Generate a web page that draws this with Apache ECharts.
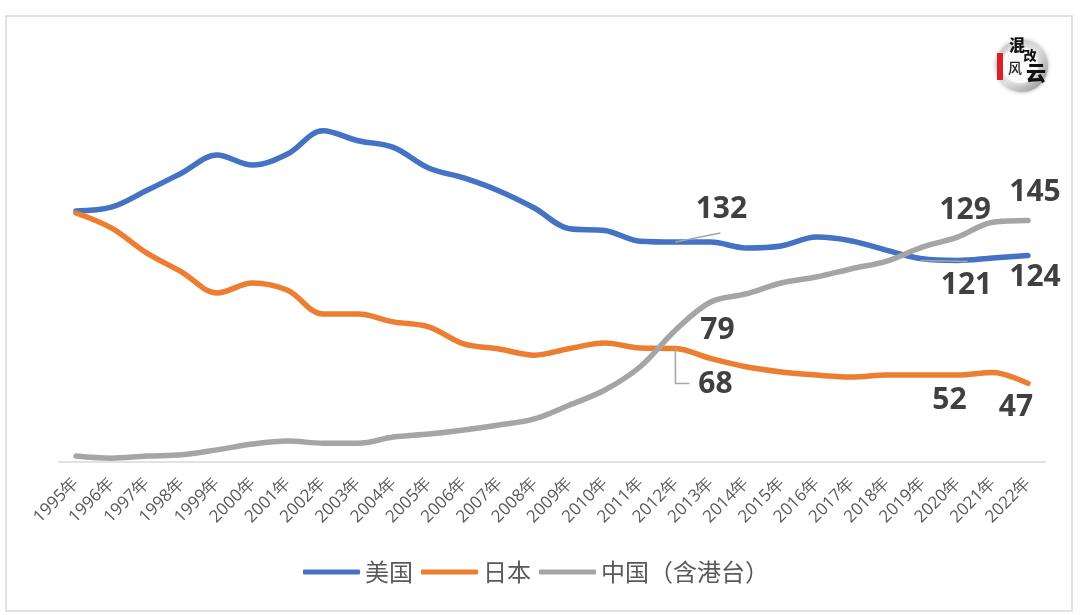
<!DOCTYPE html>
<html><head><meta charset="utf-8">
<script src="https://cdn.jsdelivr.net/npm/echarts@6/dist/echarts.min.js"></script>
<style>html,body{margin:0;padding:0;background:#fff}#c{width:1080px;height:615px}</style>
</head><body><div id="c"></div>
<script>
const years = ['1995年','1996年','1997年','1998年','1999年','2000年','2001年','2002年','2003年','2004年','2005年','2006年','2007年','2008年','2009年','2010年','2011年','2012年','2013年','2014年','2015年','2016年','2017年','2018年','2019年','2020年','2021年','2022年'];
const usa = [150.7,153,163,173.6,184.4,178.4,185,199,193,189,176.6,170.6,162.8,152.5,140,139,132.5,132,132,128.5,129.7,135,132.7,127,122,121,122.5,124];
const japan = [149.5,140.5,125.5,114,101.4,107.4,103,88.7,88.7,84,81,70.7,67.7,64,68,71.3,68.3,68,62,57,53.9,52,50.8,52,52,52,53.5,47];
const china = [3.3,2,3.3,4,7,10.5,12.3,11,11,14.7,16.5,19,22,25.6,34,43,57,79,96,100.8,107.4,111,116,120.6,129,135,144,145];

// label offsets from the data point, by data index
const usaLabels = {17:[46,-33],25:[9,25],27:[7,22]};
const japanLabels = {17:[40,36],25:[-8,25],27:[-12,24]};
const chinaLabels = {17:[42,0],24:[49,-37],27:[7,-28]};
chinaLabels[24] = [43,-37];

// leader lines: anchored on a data point, then pixel offsets from it
const leaderAnchors = [[17,132],[25,121],[17,68]];
const leaderOffsets = [
  [[0,0],[45,-9]],
  [[-37,0],[10,1]],
  [[0,0],[0,35],[14,35]]
];

function makeSeries(name, values, color, spec, z){
  return {
    name, type:'line', smooth:0.35, z,
    showSymbol:true, symbol:'circle', symbolSize:0,
    lineStyle:{color, width:5.5, cap:'round', join:'round'},
    itemStyle:{color},
    emphasis:{disabled:true},
    data: values.map((v,i)=>{
      const s = spec[i];
      if(!s) return {value:v, label:{show:false}};
      return {value:v,
        label:{show:true, position:'inside', formatter:'{c}', color:'#404040',
               fontFamily:'"Open Sans"', fontWeight:700, fontSize:30}};
    }),
    labelLayout:(p)=>{ const s=spec[p.dataIndex]; return s?{dx:s[0],dy:s[1]}:{}; }
  };
}

const chart = echarts.init(document.getElementById('c'), null, {renderer:'canvas'});
chart.setOption({
  animation:false,
  backgroundColor:'#fff',
  grid:{left:58.4, right:34.4, top:62.6, bottom:153.5},
  legend:{
    top:555, left:298, icon:'roundRect', itemWidth:57, itemHeight:5, itemGap:8,
    textStyle:{color:'#595959', fontSize:24, fontFamily:'"Noto Sans CJK SC"'},
    data:['美国','日本','中国（含港台）']
  },
  xAxis:{type:'category', data:years, boundaryGap:true,
    axisLine:{lineStyle:{color:'#d9d9d9', width:1.5}}, axisTick:{show:false},
    axisLabel:{rotate:45, interval:0, color:'#595959', fontSize:17, fontFamily:'"Open Sans"', margin:19}},
  yAxis:{type:'value', min:0, max:240, show:false, splitLine:{show:false}},
  series:[
    {type:'custom', silent:true, z:6, data:leaderAnchors, encode:{x:0,y:1},
      renderItem:(params,api)=>{
        const c = api.coord([api.value(0),api.value(1)]);
        return {type:'polyline', shape:{points:leaderOffsets[params.dataIndex].map(o=>[c[0]+o[0],c[1]+o[1]])},
          style:{fill:null,stroke:'#a6a6a6',lineWidth:1.5}};
      }},
    makeSeries('美国', usa, '#4472c4', usaLabels, 3),
    makeSeries('日本', japan, '#ed7d31', japanLabels, 4),
    makeSeries('中国（含港台）', china, '#a5a5a5', chinaLabels, 5)
  ],
  graphic:[
    {type:'rect', silent:true, shape:{x:6,y:16,width:1066,height:595}, style:{fill:'none',stroke:'#d9d9d9',lineWidth:1.5}},
    {type:'circle', silent:true, shape:{cx:1022,cy:66,r:26},
      style:{fill:{type:'linear',x:0,y:0,x2:1,y2:1,colorStops:[{offset:0,color:'#c4c4c4'},{offset:0.5,color:'#dedede'},{offset:1,color:'#8f8f8f'}]},shadowBlur:4,shadowColor:'rgba(120,120,120,0.6)'}},
    {type:'circle', silent:true, shape:{cx:1020,cy:65,r:18}, style:{fill:'#fbfbfb',shadowBlur:6,shadowColor:'#ffffff'}},
    {type:'rect', silent:true, shape:{x:997,y:53,width:6,height:27}, style:{fill:'#d8212b'}},
    {type:'text', silent:true, style:{x:1017,y:45,text:'混',align:'center',verticalAlign:'middle',font:'900 16px "Noto Sans CJK SC"',fill:'#111'}},
    {type:'text', silent:true, style:{x:1030,y:55,text:'改',align:'center',verticalAlign:'middle',font:'900 13px "Noto Sans CJK SC"',fill:'#111'}},
    {type:'text', silent:true, style:{x:1015,y:68,text:'风',align:'center',verticalAlign:'middle',font:'500 14px "Noto Sans CJK SC"',fill:'#222'}},
    {type:'text', silent:true, style:{x:1036,y:73,text:'云',align:'center',verticalAlign:'middle',font:'900 20px "Noto Sans CJK SC"',fill:'#111'}}
  ]
});
</script></body></html>
